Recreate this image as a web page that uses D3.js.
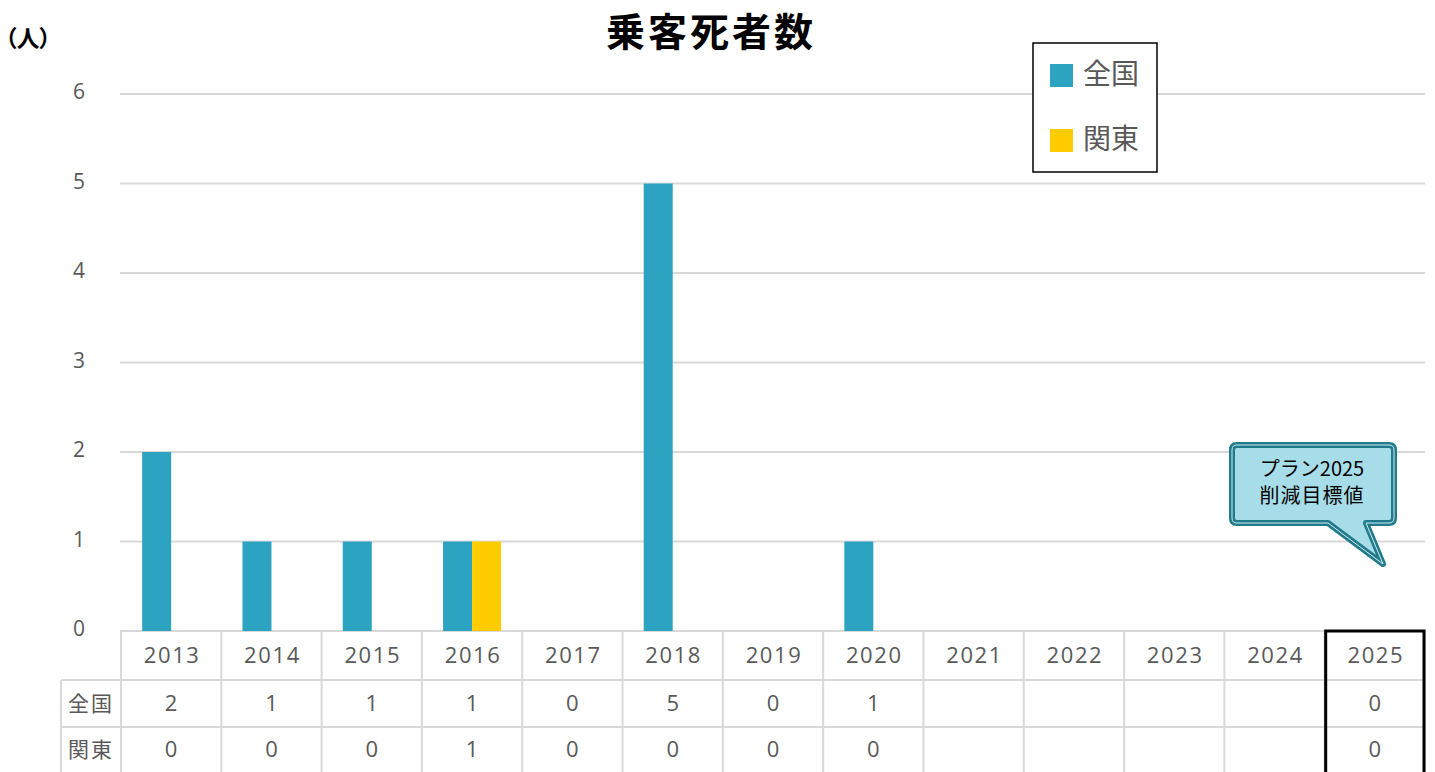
<!DOCTYPE html>
<html>
<head>
<meta charset="utf-8">
<script src="https://cdn.jsdelivr.net/npm/d3@7"></script>
<style>
  body { margin: 0; background: #fff; }
  svg { display: block; }
  text { font-family: "Noto Sans CJK JP", "Noto Sans", sans-serif; }
  .num { font-family: "Open Sans", "Noto Sans", sans-serif; }
  .unit { font-feature-settings: "palt"; }
</style>
</head>
<body>
<div id="chart"></div>
<script>
//////////////////////////////////////////////////////////////////////////////
// Data

var years   = ["2013","2014","2015","2016","2017","2018","2019","2020","2021","2022","2023","2024","2025"];
var series  = ["全国", "関東"];
var zenkoku = [2, 1, 1, 1, 0, 5, 0, 1, null, null, null, null, 0];
var kanto   = [0, 0, 0, 1, 0, 0, 0, 0, null, null, null, null, 0];
var yTicks  = [0, 1, 2, 3, 4, 5, 6];
var colors  = ["#2ca3c0", "#ffcc00"];
var targetYear = "2025";

var width = 1435, height = 772;
var gridColor = "#d9d9d9", textColor = "#595959";

var xScale = d3.scaleBand().domain(years).range([121, 1425]).padding(0);
var xSub   = d3.scaleBand().domain(series).range([0, xScale.bandwidth()]).paddingInner(0).paddingOuter(0.73);
var yScale = d3.scaleLinear().domain([0, 6]).range([631, 94]);

var rows = [zenkoku, kanto];

var svg = d3.select("#chart")
    .append("svg")
    .attr("width", width)
    .attr("height", height);

//////////////////////////////////////////////////////////////////////////////
// Gridlines and y labels

svg.append("g")
    .selectAll("line")
    .data(yTicks)
    .enter()
    .append("line")
    .attr("x1", 120)
    .attr("x2", 1425)
    .attr("y1", function(d) { return yScale(d); })
    .attr("y2", function(d) { return yScale(d); })
    .attr("stroke", gridColor)
    .attr("stroke-width", 2);

svg.append("g")
    .selectAll("text")
    .data(yTicks)
    .enter()
    .append("text")
    .attr("class", "num")
    .attr("x", 85)
    .attr("y", function(d) { return yScale(d) - 2; })
    .attr("dy", "0.35em")
    .attr("text-anchor", "end")
    .attr("font-size", 21)
    .attr("fill", textColor)
    .text(function(d) { return d; });

//////////////////////////////////////////////////////////////////////////////
// Bars

series.forEach(function(s, i) {
    var vals = rows[i];
    svg.append("g")
        .selectAll("rect")
        .data(years.map(function(y, j) { return {year: y, v: vals[j]}; })
                   .filter(function(d) { return d.v; }))
        .enter()
        .append("rect")
        .attr("x", function(d) { return xScale(d.year) + xSub(s); })
        .attr("y", function(d) { return yScale(d.v); })
        .attr("width", xSub.bandwidth())
        .attr("height", function(d) { return yScale(0) - yScale(d.v); })
        .attr("fill", colors[i]);
});

//////////////////////////////////////////////////////////////////////////////
// Data table

var rowY = [631, 680, 727, 772];
var table = svg.append("g");

// vertical lines
table.selectAll("line.v")
    .data(years.map(function(y) { return xScale(y); }).concat([1425]))
    .enter()
    .append("line")
    .attr("x1", function(d) { return d; })
    .attr("x2", function(d) { return d; })
    .attr("y1", rowY[0])
    .attr("y2", rowY[3])
    .attr("stroke", gridColor)
    .attr("stroke-width", 2);

table.append("line")
    .attr("x1", 61).attr("x2", 61)
    .attr("y1", rowY[1]).attr("y2", rowY[3])
    .attr("stroke", gridColor).attr("stroke-width", 2);

table.append("line")
    .attr("x1", 61).attr("x2", 1425)
    .attr("y1", rowY[1]).attr("y2", rowY[1])
    .attr("stroke", gridColor).attr("stroke-width", 2);
table.append("line")
    .attr("x1", 61).attr("x2", 1425)
    .attr("y1", rowY[2]).attr("y2", rowY[2])
    .attr("stroke", gridColor).attr("stroke-width", 2);

// year header
table.selectAll("text.year")
    .data(years)
    .enter()
    .append("text")
    .attr("class", "num")
    .attr("x", function(d) { return xScale(d) + xScale.bandwidth() / 2 + 1; })
    .attr("y", (rowY[0] + rowY[1]) / 2)
    .attr("dy", "0.35em")
    .attr("text-anchor", "middle")
    .attr("font-size", 22)
    .attr("letter-spacing", 1.6)
    .attr("fill", textColor)
    .text(function(d) { return d; });

// rows
rows.forEach(function(vals, i) {
    var cy = (rowY[i + 1] + rowY[i + 2]) / 2;
    table.append("text")
        .attr("x", 91)
        .attr("y", cy)
        .attr("dy", "0.35em")
        .attr("text-anchor", "middle")
        .attr("font-size", 21)
        .attr("letter-spacing", 2)
        .attr("fill", textColor)
        .text(series[i]);

    table.selectAll("text.r" + i)
        .data(years.map(function(y, j) { return {year: y, v: vals[j]}; })
                   .filter(function(d) { return d.v !== null; }))
        .enter()
        .append("text")
        .attr("class", "num")
        .attr("x", function(d) { return xScale(d.year) + xScale.bandwidth() / 2; })
        .attr("y", cy)
        .attr("dy", "0.35em")
        .attr("text-anchor", "middle")
        .attr("font-size", 22)
        .attr("fill", textColor)
        .text(function(d) { return d.v; });
});

// highlight target column
table.append("rect")
    .attr("x", xScale(targetYear) + 1)
    .attr("y", rowY[0])
    .attr("width", xScale.bandwidth() - 2)
    .attr("height", rowY[3] - rowY[0] + 4)
    .attr("fill", "none")
    .attr("stroke", "#000")
    .attr("stroke-width", 3);

//////////////////////////////////////////////////////////////////////////////
// Title, unit, legend

svg.append("text")
    .attr("x", 711)
    .attr("y", 46)
    .attr("text-anchor", "middle")
    .attr("font-size", 39)
    .attr("font-weight", "bold")
    .attr("letter-spacing", 3)
    .attr("fill", "#000")
    .text("乗客死者数");

svg.append("text")
    .attr("class", "unit")
    .attr("x", 5)
    .attr("y", 47)
    .attr("font-size", 23)
    .attr("font-weight", "bold")
    .attr("fill", "#000")
    .text("（人）");

var legend = svg.append("g");
legend.append("rect")
    .attr("x", 1033).attr("y", 43)
    .attr("width", 124).attr("height", 129)
    .attr("fill", "#fff")
    .attr("stroke", "#000")
    .attr("stroke-width", 1.5);

var lg = legend.selectAll("g")
    .data(series)
    .enter()
    .append("g")
    .attr("transform", function(d, i) { return "translate(1050," + (64 + i * 65) + ")"; });
lg.append("rect")
    .attr("width", 23).attr("height", 23)
    .attr("fill", function(d, i) { return colors[i]; });
lg.append("text")
    .attr("x", 33)
    .attr("y", 10)
    .attr("dy", "0.35em")
    .attr("font-size", 28)
    .attr("fill", textColor)
    .text(function(d) { return d; });

//////////////////////////////////////////////////////////////////////////////
// Callout

var cx0 = 1232, cy0 = 445, cw = 162, ch = 78, r = 5;
var calloutPath = "M" + (cx0 + r) + "," + cy0 +
    " L" + (cx0 + cw - r) + "," + cy0 + " Q" + (cx0 + cw) + "," + cy0 + " " + (cx0 + cw) + "," + (cy0 + r) +
    " L" + (cx0 + cw) + "," + (cy0 + ch - r) + " Q" + (cx0 + cw) + "," + (cy0 + ch) + " " + (cx0 + cw - r) + "," + (cy0 + ch) +
    " L1366," + (cy0 + ch) + " L1383,564 L1328," + (cy0 + ch) +
    " L" + (cx0 + r) + "," + (cy0 + ch) + " Q" + cx0 + "," + (cy0 + ch) + " " + cx0 + "," + (cy0 + ch - r) +
    " L" + cx0 + "," + (cy0 + r) + " Q" + cx0 + "," + cy0 + " " + (cx0 + r) + "," + cy0 + " Z";

svg.append("path")
    .attr("d", calloutPath)
    .attr("fill", "#a7dde9")
    .attr("stroke", "#217b8b")
    .attr("stroke-width", 6)
    .attr("stroke-linejoin", "round");
svg.append("path")
    .attr("d", calloutPath)
    .attr("fill", "none")
    .attr("stroke", "#cfeef4")
    .attr("stroke-width", 1);

svg.append("text")
    .attr("x", 1312).attr("y", 469)
    .attr("dy", "0.35em")
    .attr("text-anchor", "middle")
    .attr("font-size", 20)
    .attr("fill", "#000")
    .text("プラン2025");
svg.append("text")
    .attr("x", 1312).attr("y", 496)
    .attr("dy", "0.35em")
    .attr("text-anchor", "middle")
    .attr("font-size", 20)
    .attr("letter-spacing", 1)
    .attr("fill", "#000")
    .text("削減目標値");
</script>
</body>
</html>
